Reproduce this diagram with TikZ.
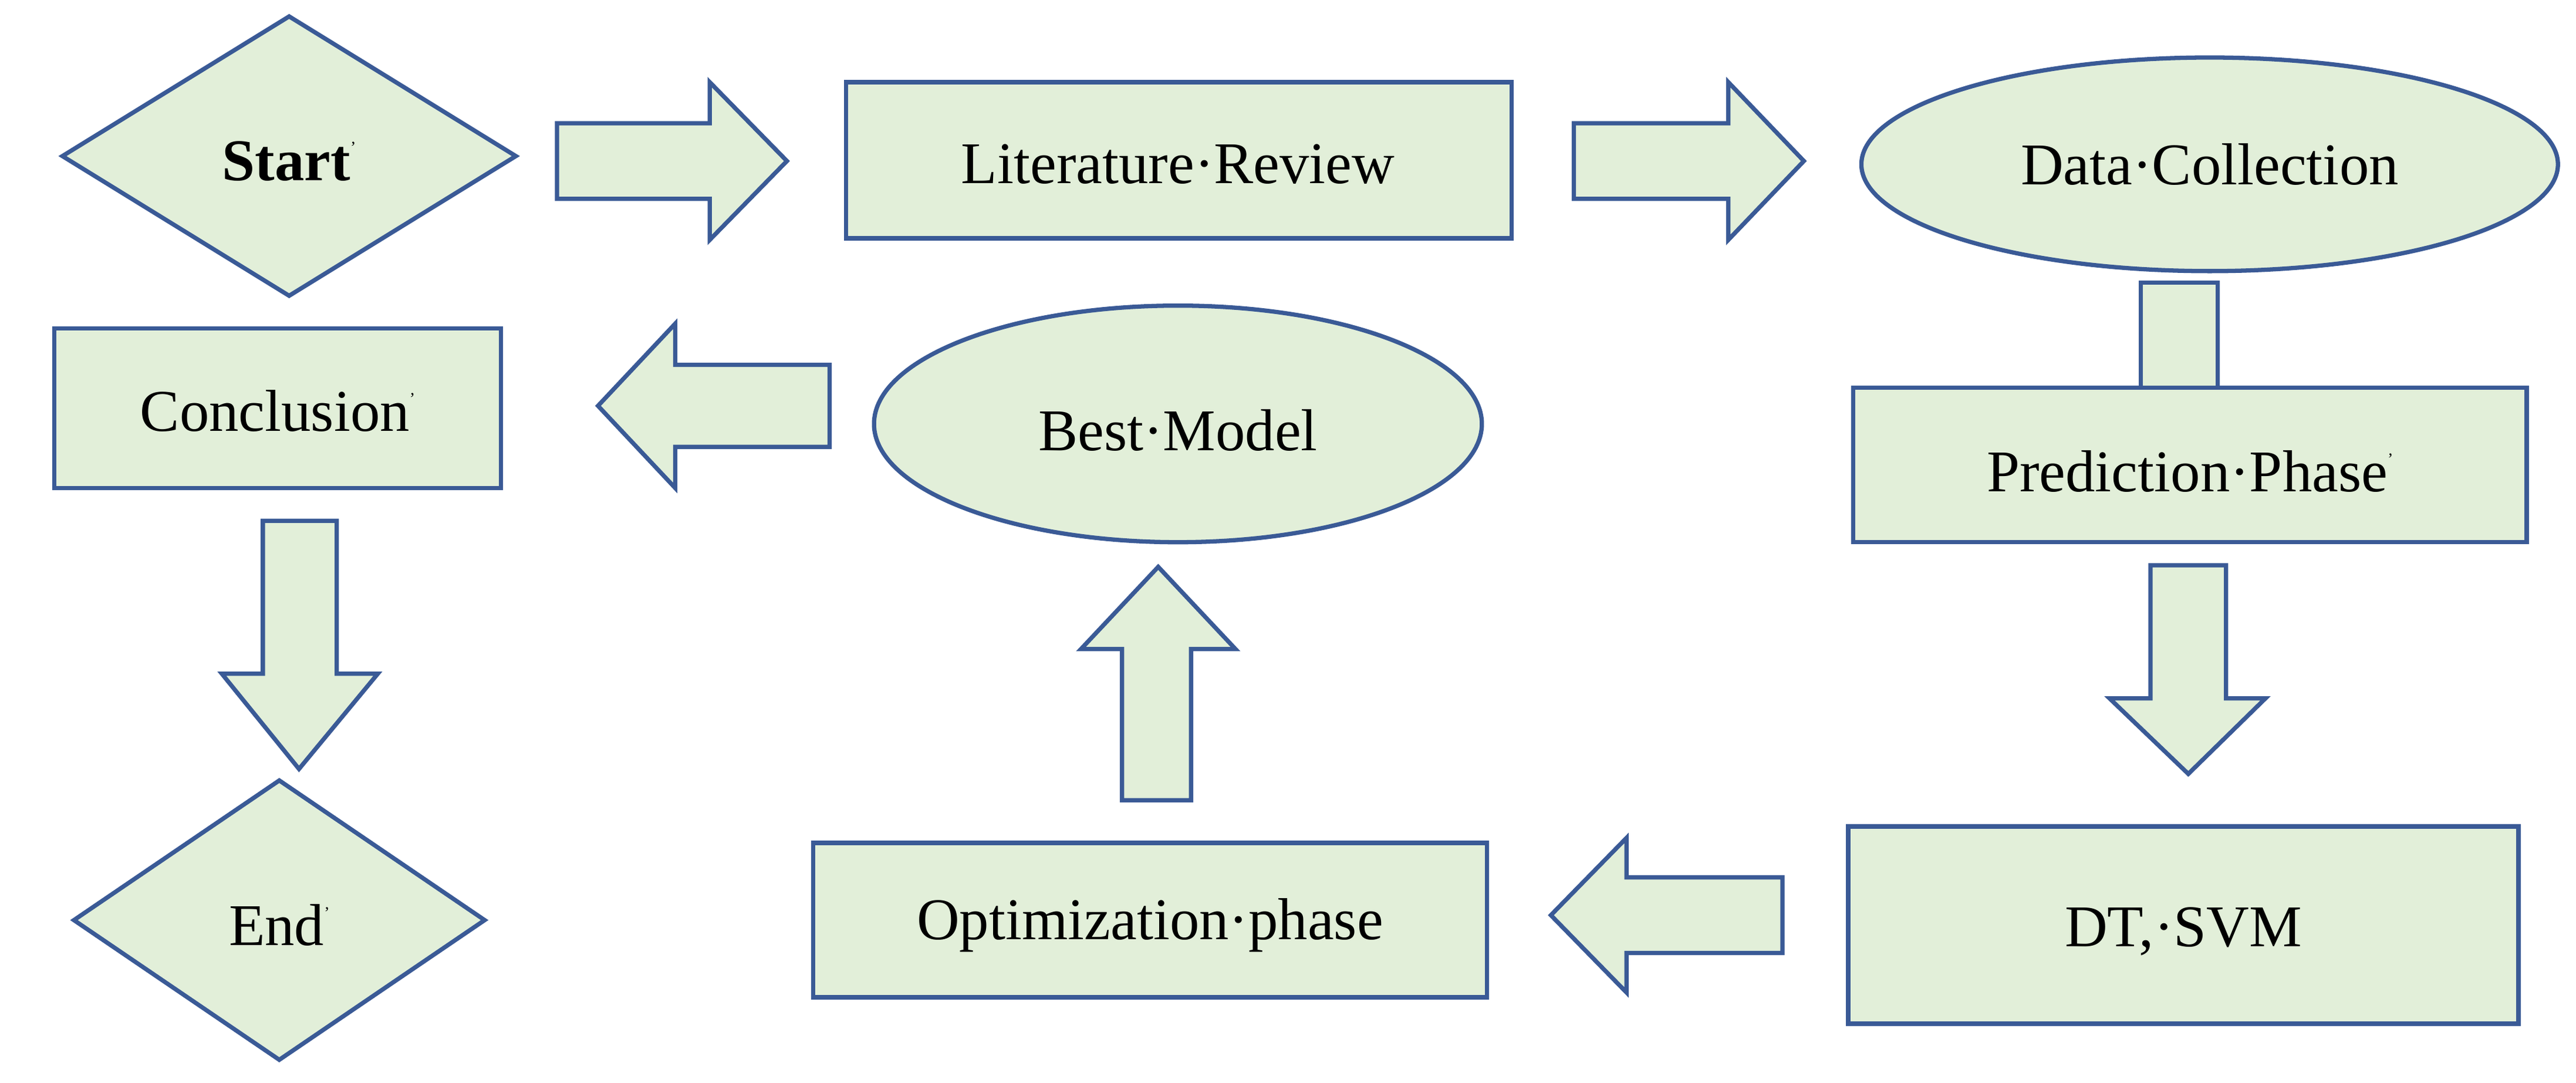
\documentclass[tikz,border=0pt]{standalone}
\usepackage{fontspec}
\setmainfont{Liberation Serif}
\usetikzlibrary{shapes.geometric}
\definecolor{fl}{HTML}{E2EFD9}
\definecolor{bd}{HTML}{3A5A96}
\begin{document}
\begin{tikzpicture}[x=0.5pt,y=-0.5pt,
  sh/.style={draw=bd,fill=fl,line width=1.3pt},
  lbl/.style={font=\fontsize{18}{21}\selectfont,inner sep=0pt}]
\useasboundingbox (0,0) rectangle (1568,659);
% shapes
\draw[sh] (176,10) -- (314,95) -- (176,180) -- (38,95) -- cycle;
\node[lbl] (start) at (176,98) {\textbf{Start}\raisebox{1ex}{\tiny'}};
\draw[sh] (515,50) rectangle (920,145);
\node[lbl] (lit) at (717,100) {Literature·Review};
\draw[sh] (1345,100) ellipse [x radius=212, y radius=65];
\node[lbl] (data) at (1345,100) {Data·Collection};
\draw[sh] (1303,172) rectangle (1350,236);
\draw[sh] (1128,236) rectangle (1538,330);
\node[lbl] (pred) at (1333,287) {Prediction·Phase\raisebox{1ex}{\tiny'}};
\draw[sh] (1125,503) rectangle (1533,623);
\node[lbl] (dt) at (1329,567) {DT,·SVM};
\draw[sh] (495,513) rectangle (905,607);
\node[lbl] (opt) at (700,563) {Optimization·phase};
\draw[sh] (717,258) ellipse [x radius=185, y radius=72];
\node[lbl] (best) at (717,262) {Best·Model};
\draw[sh] (33,200) rectangle (305,297);
\node[lbl] (conc) at (169,250) {Conclusion\raisebox{1ex}{\tiny'}};
\draw[sh] (170,475) -- (295,560) -- (170,645) -- (45,560) -- cycle;
\node[lbl] (end) at (170,563) {End\raisebox{1ex}{\tiny'}};
% block arrows
\draw[sh] (339,75) -- (432,75) -- (432,50) -- (479,98) -- (432,146) -- (432,121) -- (339,121) -- cycle;
\draw[sh] (958,75) -- (1052,75) -- (1052,50) -- (1098,98) -- (1052,146) -- (1052,121) -- (958,121) -- cycle;
\draw[sh] (1309,344) -- (1355,344) -- (1355,425) -- (1379,425) -- (1332,471) -- (1284,425) -- (1309,425) -- cycle;
\draw[sh] (1085,534) -- (990,534) -- (990,510) -- (944,557) -- (990,604) -- (990,580) -- (1085,580) -- cycle;
\draw[sh] (683,487) -- (683,395) -- (658,395) -- (705,345) -- (752,395) -- (725,395) -- (725,487) -- cycle;
\draw[sh] (505,222) -- (411,222) -- (411,197) -- (364,247) -- (411,297) -- (411,272) -- (505,272) -- cycle;
\draw[sh] (160,317) -- (205,317) -- (205,410) -- (230,410) -- (182,468) -- (135,410) -- (160,410) -- cycle;
\end{tikzpicture}
\end{document}
